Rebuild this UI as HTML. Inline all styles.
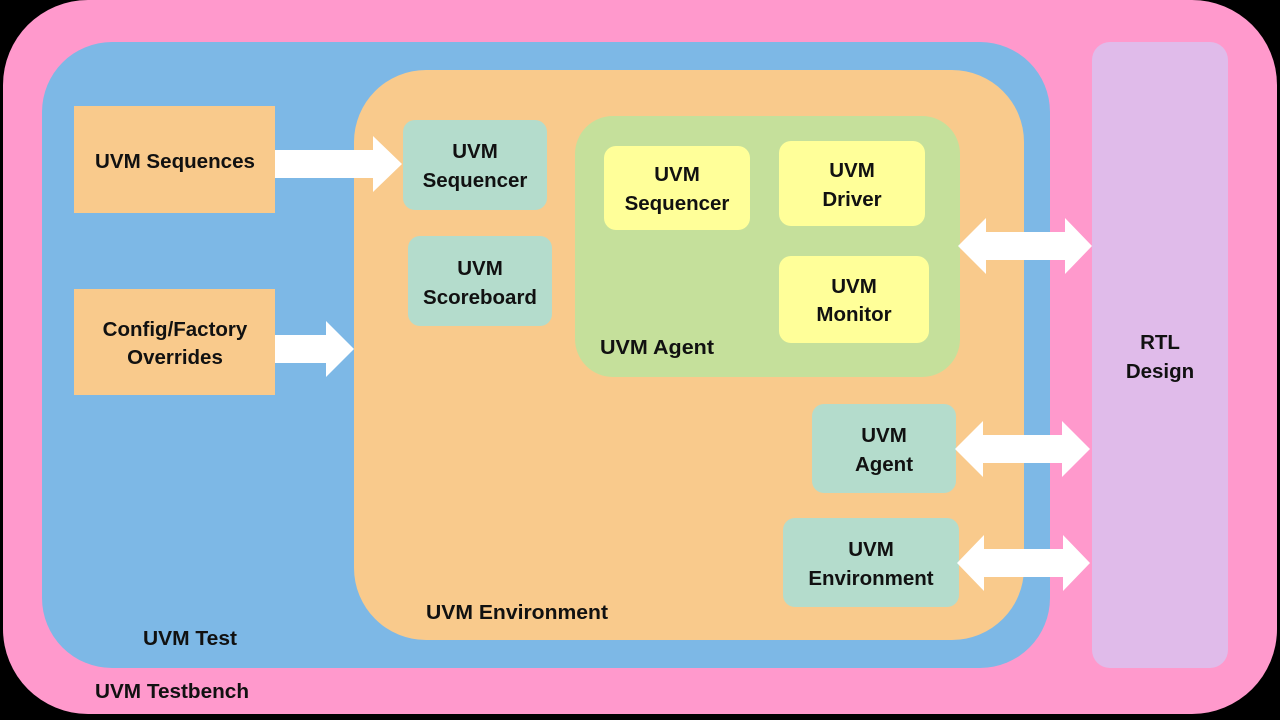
<!DOCTYPE html>
<html><head><style>body{margin:0;background:#000}svg{display:block}text{font-family:"Liberation Sans",sans-serif;font-weight:bold;font-size:20.5px;fill:#111;text-anchor:middle}</style></head>
<body>
<svg width="1280" height="720" viewBox="0 0 1280 720">
<rect width="1280" height="720" fill="#000"/>
<rect x="3" y="0" width="1274" height="714" rx="85" fill="#ff99cc"/>
<rect x="42" y="42" width="1008" height="626" rx="70" fill="#7db8e6"/>
<rect x="354" y="70" width="670" height="570" rx="72" fill="#f9ca8c"/>
<rect x="1092" y="42" width="136" height="626" rx="18" fill="#e0bbea"/>
<rect x="575" y="116" width="385" height="261" rx="38" fill="#c5e09b"/>
<rect x="74" y="106" width="201" height="107" fill="#f9ca8c"/>
<rect x="74" y="289" width="201" height="106" fill="#f9ca8c"/>
<rect x="403" y="120" width="144" height="90" rx="12" fill="#b4dccc"/>
<rect x="408" y="236" width="144" height="90" rx="12" fill="#b4dccc"/>
<rect x="604" y="146" width="146" height="84" rx="12" fill="#ffff99"/>
<rect x="779" y="141" width="146" height="85" rx="12" fill="#ffff99"/>
<rect x="779" y="256" width="150" height="87" rx="12" fill="#ffff99"/>
<rect x="812" y="404" width="144" height="89" rx="12" fill="#b4dccc"/>
<rect x="783" y="518" width="176" height="89" rx="12" fill="#b4dccc"/>
<g fill="#fff">
<polygon points="275,150 373,150 373,136 402,164 373,192 373,178 275,178"/>
<polygon points="275,335 326,335 326,321 354,349 326,377 326,363 275,363"/>
<polygon points="958,246 986,218 986,232 1065,232 1065,218 1092,246 1065,274 1065,260 986,260 986,274"/>
<polygon points="955,449 983,421 983,435 1062,435 1062,421 1090,449 1062,477 1062,463 983,463 983,477"/>
<polygon points="957,563 984,535 984,549 1063,549 1063,535 1090,563 1063,591 1063,577 984,577 984,591"/>
</g>
<text x="175" y="168" textLength="160" lengthAdjust="spacingAndGlyphs">UVM Sequences</text>
<text x="175" y="336">Config/Factory</text><text x="175" y="364">Overrides</text>
<text x="475" y="158">UVM</text><text x="475" y="187">Sequencer</text>
<text x="480" y="275">UVM</text><text x="480" y="304">Scoreboard</text>
<text x="677" y="181">UVM</text><text x="677" y="210">Sequencer</text>
<text x="852" y="177">UVM</text><text x="852" y="206">Driver</text>
<text x="854" y="293">UVM</text><text x="854" y="321">Monitor</text>
<text x="657" y="354" textLength="114" lengthAdjust="spacingAndGlyphs">UVM Agent</text>
<text x="884" y="442">UVM</text><text x="884" y="471">Agent</text>
<text x="871" y="556">UVM</text><text x="871" y="585">Environment</text>
<text x="1160" y="349">RTL</text><text x="1160" y="378">Design</text>
<text x="517" y="619" textLength="182" lengthAdjust="spacingAndGlyphs">UVM Environment</text>
<text x="190" y="645" textLength="94" lengthAdjust="spacingAndGlyphs">UVM Test</text>
<text x="172" y="698" textLength="154" lengthAdjust="spacingAndGlyphs">UVM Testbench</text>
</svg>
</body></html>
